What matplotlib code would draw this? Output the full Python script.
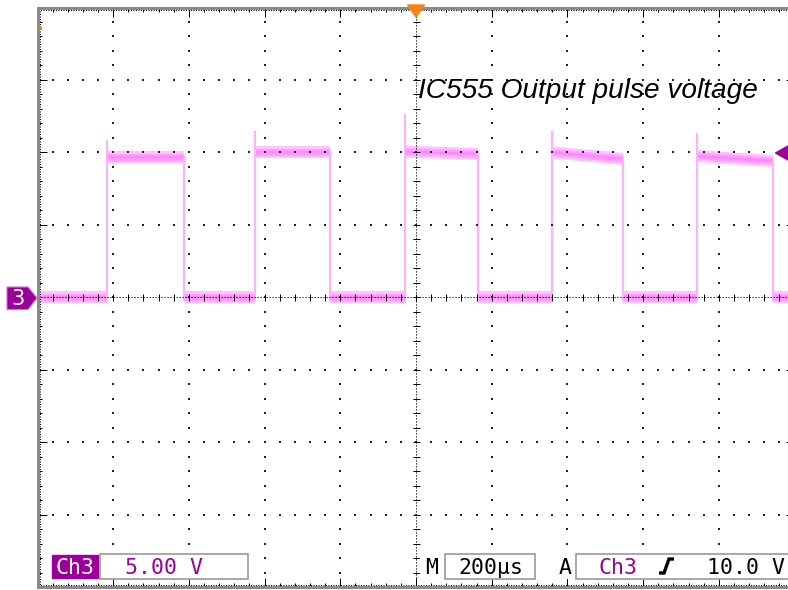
import numpy as np
import matplotlib
matplotlib.use("Agg")
import matplotlib.pyplot as plt
from matplotlib.patches import Rectangle, Polygon
from matplotlib import transforms

# Channel 3 pulse train (time in microseconds, amplitude in volts)
rise_us = [-816, -425, -29, 359, 742]
fall_us = [-613, -227, 164, 547, 943]
high_start_v = [9.70, 10.05, 10.05, 10.0, 9.75]
high_end_v = [9.70, 10.05, 9.90, 9.55, 9.40]
spike_v = [10.8, 11.4, 12.6, 11.4, 11.3]
low_v = 0.0

# Scope settings shown in the readout
ch_label = "Ch3"
volts_per_div = "5.00 V"
time_per_div = "200µs"
trig_level = "10.0 V"
title = "IC555 Output pulse voltage"

W, H = 788, 590
fig = plt.figure(figsize=(W / 100, H / 100), dpi=100)
fig.patch.set_facecolor("white")

left_px, right_px, top_px, bot_px = 37.5, 794.5, 7.5, 587.0
ax = fig.add_axes([left_px / W, 1 - bot_px / H, (right_px - left_px) / W, (bot_px - top_px) / H])
ax.set_xlim(-1000, 1000)
ax.set_ylim(-20, 20)
ax.set_facecolor("white")

# --- trace ---
band_outer = "#FFC4FF"
band_mid = "#FFA0FF"
band_inner = "#FF88FF"
edge_col = "#FFB0FF"
pt = 72 / 100  # points per pixel


def band(xs, ys):
    ax.plot(xs, ys, color=band_outer, lw=12 * pt, solid_capstyle="butt", zorder=2)
    ax.plot(xs, ys, color=band_mid, lw=7 * pt, solid_capstyle="butt", zorder=2.05)
    ax.plot(xs, ys, color=band_inner, lw=2.5 * pt, solid_capstyle="butt", zorder=2.1)


# low segments
lows_x0 = [-1000] + fall_us
lows_x1 = rise_us + [1000]
for x0, x1 in zip(lows_x0, lows_x1):
    band([x0, x1], [low_v, low_v])
# high segments
for r, f, hs, he in zip(rise_us, fall_us, high_start_v, high_end_v):
    band([r, f], [hs, he])
# edges
for r, f, he, sp in zip(rise_us, fall_us, high_end_v, spike_v):
    ax.plot([r, r], [low_v, sp], color=edge_col, lw=2.2 * pt, zorder=2.2)
    ax.plot([f, f], [he, low_v - 0.2], color=edge_col, lw=2.2 * pt, zorder=2.2)

# --- graticule ---
dot_col = "#222222"
minor_x = np.arange(-1000, 1001, 40)
minor_y = np.arange(-20, 21, 1)
major_x = [x for x in range(-800, 801, 200) if x != 0]
major_y = [y for y in range(-15, 16, 5) if y != 0]
gx, gy = [], []
for mx in major_x:
    gx += [mx] * len(minor_y)
    gy += list(minor_y)
for my in major_y:
    gx += list(minor_x)
    gy += [my] * len(minor_x)
ax.scatter(gx, gy, s=2.2, marker="s", color=dot_col, linewidths=0, zorder=5)

# center cross
ax.plot([-1000, 1000], [0, 0], color="black", lw=1 * pt, ls=(0, (1.2, 1.8)), zorder=5)
ax.plot([0, 0], [-20, 20], color="black", lw=1 * pt, ls=(0, (1.2, 1.8)), zorder=5)
ax.plot(minor_x, np.zeros_like(minor_x), ls="none", marker="|", ms=7 * pt, mew=1 * pt, color="black", zorder=5)
ax.plot(np.zeros_like(minor_y), minor_y, ls="none", marker="_", ms=7 * pt, mew=1 * pt, color="black", zorder=5)

# border
for s in ax.spines.values():
    s.set_color("#8a8a8a")
    s.set_linewidth(3 * pt)
    s.set_zorder(6)
ax.set_xticks(np.arange(-1000, 1001, 200))
ax.set_xticks(minor_x, minor=True)
ax.set_yticks(np.arange(-20, 21, 5))
ax.set_yticks(minor_y, minor=True)
ax.tick_params(which="both", direction="in", top=True, right=True, color="black",
               labelbottom=False, labelleft=False, width=1 * pt)
ax.tick_params(which="major", length=9 * pt)
ax.tick_params(which="minor", length=4 * pt)
# dotted line just inside the border
for (x0, y0, x1, y1, dx, dy) in [(0, 0, 0, 1, 2.5, 0), (0, 1, 1, 1, 0, -2.5), (0, 0, 1, 0, 0, 2.5)]:
    tr = transforms.offset_copy(ax.transAxes, fig=fig, x=dx, y=dy, units="dots")
    ax.plot([x0, x1], [y0, y1], transform=tr, color="black", lw=1 * pt, ls=(0, (1, 1.5)), zorder=6, clip_on=False)

# --- overlay in pixel coordinates for markers and readouts ---
ov = fig.add_axes([0, 0, 1, 1], zorder=10)
ov.set_xlim(0, W)
ov.set_ylim(H, 0)
ov.axis("off")
ov.patch.set_alpha(0)

purple = "#9B009B"

# horizontal trigger position marker (top)
ov.add_patch(Polygon([(407.5, 5), (424.5, 5), (416, 17)], closed=True, color="#F7820F", zorder=3))
ov.add_patch(Rectangle((39, 26.5), 2.5, 2.5, color="#F7820F", zorder=3))

# channel ground marker
ov.add_patch(Polygon([(7, 287), (28, 287), (37, 298), (28, 309.5), (7, 309.5)], closed=True,
                     facecolor=purple, edgecolor="#D070D0", lw=0.8, zorder=3))
ov.text(18, 299, "3", color="white", fontsize=15, ha="center", va="center",
        family="DejaVu Sans", zorder=4)

# trigger level marker
ov.add_patch(Polygon([(775.5, 153), (788, 146), (788, 160)], closed=True, color=purple, zorder=3))

# title
ov.text(418, 98, title, fontsize=20.2, style="italic", family="Liberation Sans", ha="left", va="baseline")

# readout boxes
mono = "DejaVu Sans Mono"
fs = 15.5
ov.add_patch(Rectangle((52, 554.5), 46, 23.5, color=purple, zorder=3))
ov.text(75, 574, ch_label, color="white", fontsize=fs, family=mono, ha="center", va="baseline", zorder=4)
ov.add_patch(Rectangle((100, 554), 148, 25, facecolor="white", edgecolor="#9a9a9a", lw=1.2, zorder=3))
ov.text(164, 574, volts_per_div, color=purple, fontsize=fs, family=mono, ha="center", va="baseline", zorder=4)

ov.add_patch(Rectangle((420, 554), 24, 25, facecolor="white", edgecolor="none", zorder=2))
ov.text(432, 574, "M", color="black", fontsize=fs, family=mono, ha="center", va="baseline", zorder=4)
ov.add_patch(Rectangle((445, 554), 90, 25, facecolor="white", edgecolor="#9a9a9a", lw=1.2, zorder=3))
ov.text(491, 574, time_per_div, color="black", fontsize=fs, family=mono, ha="center", va="baseline", zorder=4)
ov.add_patch(Rectangle((553, 554), 24, 25, facecolor="white", edgecolor="none", zorder=2))
ov.text(565, 574, "A", color="black", fontsize=fs, family=mono, ha="center", va="baseline", zorder=4)
ov.add_patch(Rectangle((576, 554), 230, 25, facecolor="white", edgecolor="#9a9a9a", lw=1.2, zorder=3))
ov.text(618, 574, ch_label, color=purple, fontsize=fs, family=mono, ha="center", va="baseline", zorder=4)
ov.plot([659, 664, 669, 674], [573, 573, 559, 559], color="black", lw=2.4, solid_capstyle="butt",
        solid_joinstyle="miter", zorder=4)
ov.text(785, 574, trig_level, color="black", fontsize=fs, family=mono, ha="right", va="baseline", zorder=4)

fig.savefig("out.png", dpi=100, facecolor="white")
